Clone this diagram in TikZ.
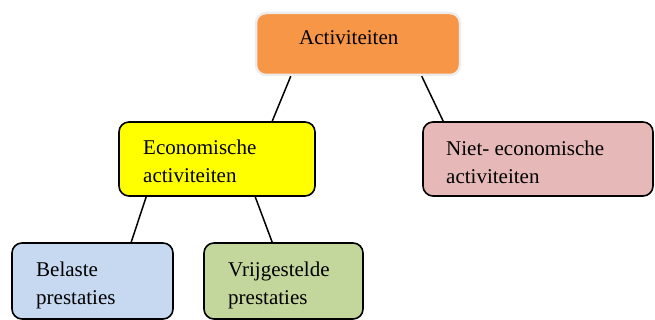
\documentclass[tikz,border=0pt]{standalone}
\usepackage{fontspec}
\setmainfont{Liberation Serif}
\usetikzlibrary{calc}
\definecolor{actfill}{HTML}{F79646}
\definecolor{actline}{HTML}{EDEDED}
\definecolor{ecofill}{HTML}{FFFF00}
\definecolor{nietfill}{HTML}{E6B9B8}
\definecolor{belfill}{HTML}{C6D9F1}
\definecolor{vrijfill}{HTML}{C3D69B}
\tikzset{
  box/.style={draw=black, line width=1.6pt, rounded corners=10pt, inner sep=0pt},
  txt/.style={anchor=base west, inner sep=0pt, align=left, font=\fontsize{21}{28}\selectfont},
  conn/.style={draw=black, line width=1.5pt}
}
\begin{document}
\begin{tikzpicture}[x=1pt,y=1pt]
\useasboundingbox (0,0) rectangle (655,320);
\node[box, draw=actline, line width=2.5pt, fill=actfill, minimum width=204pt, minimum height=62pt] (act) at (358,276) {};
\node[box, fill=ecofill, minimum width=196pt, minimum height=74pt] (eco) at (217,161) {};
\node[box, fill=nietfill, minimum width=230pt, minimum height=74pt] (niet) at (538,161) {};
\node[box, fill=belfill, minimum width=161pt, minimum height=76pt] (bel) at (92.5,39) {};
\node[box, fill=vrijfill, minimum width=159pt, minimum height=76pt] (vrij) at (283.5,39) {};
\node[txt] (tact) at (299,275) {Activiteiten};
\node[txt] (teco) at (143,137) {Economische\\activiteiten};
\node[txt] (tniet) at (446,136) {Niet- economische\\activiteiten};
\node[txt] (tbel) at (36,15) {Belaste\\prestaties};
\node[txt] (tvrij) at (228,15) {Vrijgestelde\\prestaties};
\draw[conn] ([xshift=36pt]act.south west) -- ([xshift=154pt]eco.north west);
\draw[conn] ([xshift=167pt]act.south west) -- ([xshift=21pt]niet.north west);
\draw[conn] ([xshift=28pt]eco.south west) -- ([xshift=120pt]bel.north west);
\draw[conn] ([xshift=137pt]eco.south west) -- ([xshift=69pt]vrij.north west);
\end{tikzpicture}
\end{document}
